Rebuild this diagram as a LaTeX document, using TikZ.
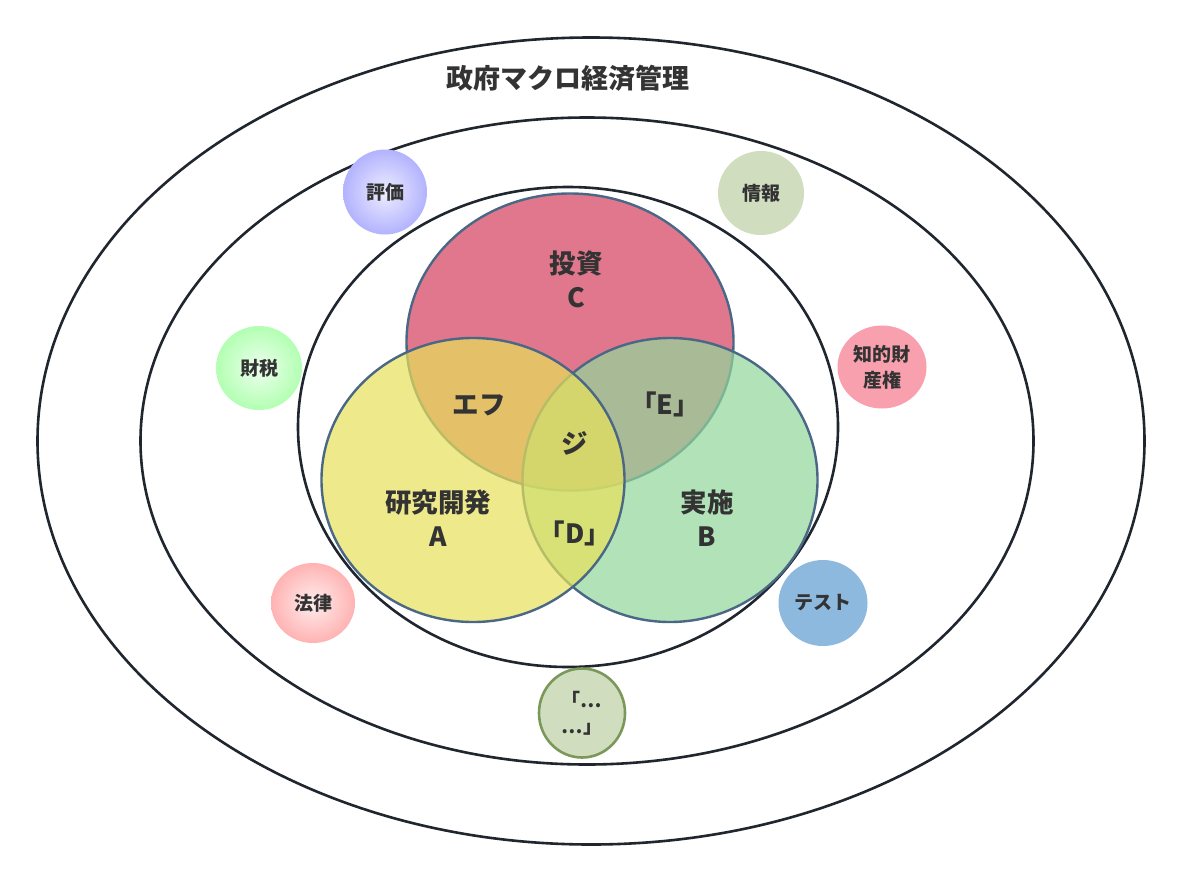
\documentclass[tikz,border=0pt]{standalone}
\usepackage{fontspec}
\setmainfont{Noto Sans CJK JP}
\usetikzlibrary{shapes.geometric}
\definecolor{ringc}{RGB}{31,38,46}
\definecolor{txt}{RGB}{51,51,51}
\definecolor{vennline}{RGB}{74,104,134}
\definecolor{cC}{RGB}{211,62,94}
\definecolor{cB}{RGB}{146,215,154}
\definecolor{cA}{RGB}{231,225,89}
\definecolor{info}{RGB}{208,222,191}
\definecolor{ipr}{RGB}{249,160,174}
\definecolor{test}{RGB}{141,185,222}
\definecolor{dotsline}{RGB}{122,152,90}
\pgfdeclareradialshading{bluesh}{\pgfpoint{0bp}{0bp}}{rgb(0bp)=(0.93,0.93,1); rgb(25bp)=(0.70,0.70,1); rgb(50bp)=(0.70,0.70,1)}
\pgfdeclareradialshading{greensh}{\pgfpoint{0bp}{0bp}}{rgb(0bp)=(0.93,1,0.93); rgb(25bp)=(0.70,1,0.70); rgb(50bp)=(0.70,1,0.70)}
\pgfdeclareradialshading{pinksh}{\pgfpoint{0bp}{0bp}}{rgb(0bp)=(1,0.93,0.93); rgb(25bp)=(1,0.70,0.70); rgb(50bp)=(1,0.70,0.70)}
\tikzset{
  ring/.style={ellipse, draw=ringc, line width=2.6pt, inner sep=0pt},
  venn/.style={ellipse, draw=vennline, line width=2.4pt, fill opacity=0.7, inner sep=0pt},
  bubble/.style={ellipse, inner sep=0pt},
  biglabel/.style={font=\fontsize{26.5}{34}\selectfont\bfseries, text=txt, align=center},
  smalllabel/.style={font=\fontsize{19}{26}\selectfont\bfseries, text=txt, align=center},
}
\begin{document}
\begin{tikzpicture}[x=1pt,y=-1pt]
\useasboundingbox (0,0) rectangle (1182,883);
\fill[white] (0,0) rectangle (1182,883);
% rings
\node[ring, minimum width=1107pt, minimum height=807pt] (r1) at (591,441) {};
\node[ring, minimum width=893pt, minimum height=647pt] (r2) at (587,441) {};
\node[ring, minimum width=540pt, minimum height=480pt] (r3) at (568,427) {};
\node[font=\fontsize{27}{32}\selectfont\bfseries, text=txt] (title) at (568,78) {政府マクロ経済管理};
% venn
\node[venn, fill=cC, minimum width=327pt, minimum height=297pt] (C) at (570,342) {};
\node[venn, fill=cB, minimum width=295pt, minimum height=284pt] (B) at (670,480) {};
\node[venn, fill=cA, minimum width=303pt, minimum height=284pt] (A) at (473,480) {};
\node[biglabel] (lC) at (576,279) {投資\\C};
\node[biglabel] (lA) at (438,518) {研究開発\\A};
\node[biglabel] (lB) at (707,518) {実施\\B};
\node[biglabel] (lAC) at (479,405) {エフ};
\node[biglabel] (lBC) at (665,404) {「E」};
\node[biglabel] (lABC) at (575,443) {ジ};
\node[biglabel] (lAB) at (575,533) {「D」};
% bubbles
\node[bubble, shading=bluesh, minimum width=84pt, minimum height=85pt] (eval) at (385,192) {};
\node[smalllabel] at (eval) {評価};
\node[bubble, fill=info, minimum width=86pt, minimum height=84pt] (info) at (761,193) {};
\node[smalllabel] at (info) {情報};
\node[bubble, shading=greensh, minimum width=86pt, minimum height=84pt] (tax) at (259,368) {};
\node[smalllabel] at (tax) {財税};
\node[bubble, fill=ipr, minimum width=89pt, minimum height=83pt] (ipr) at (882,367) {};
\node[smalllabel] at (ipr) {知的財\\産権};
\node[bubble, shading=pinksh, minimum width=84pt, minimum height=80pt] (law) at (313,603) {};
\node[smalllabel] at (law) {法律};
\node[bubble, fill=test, minimum width=89pt, minimum height=86pt] (test) at (823,603) {};
\node[smalllabel] at (test) {テスト};
\node[bubble, fill=info, draw=dotsline, line width=2.6pt, minimum width=86pt, minimum height=89pt] (dots) at (582,713) {};
\node[smalllabel] at (dots) {「…\\…」};
\end{tikzpicture}
\end{document}
